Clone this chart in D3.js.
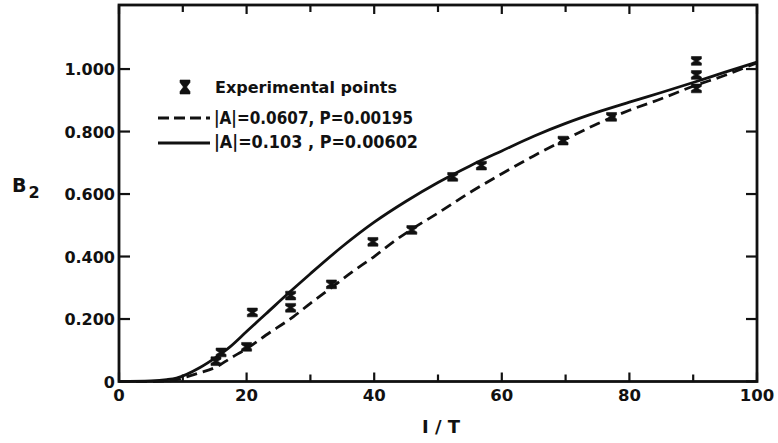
<!DOCTYPE html>
<html>
<head>
<meta charset="utf-8">
<script src="https://cdn.jsdelivr.net/npm/d3@7"></script>
<style>
  body { margin: 0; background: #fff; }
  text { font-family: "DejaVu Sans", sans-serif; font-weight: bold; fill: #111; }
</style>
</head>
<body>
<svg id="chart" width="778" height="443"></svg>
<script>
// experimental points (1/T, B2)
const expX = [15.2, 16.0, 20.0, 20.9, 26.9, 26.9, 33.3, 39.8, 45.9, 52.3, 56.8, 69.6, 77.2, 90.5, 90.5, 90.5];
const expY = [0.065, 0.093, 0.111, 0.221, 0.236, 0.275, 0.311, 0.447, 0.485, 0.655, 0.691, 0.771, 0.847, 0.938, 0.981, 1.026];
const errHalf = 0.014;

// |A| = 0.103, P = 0.00602 (solid)
const solidX = [0, 5, 7.5, 9, 12.7, 15.3, 17.4, 20, 23, 26.8, 30, 35, 40, 45, 50, 55, 60, 65, 70, 75, 80, 85, 90, 95, 100];
const solidY = [0, 0.002, 0.006, 0.011, 0.045, 0.079, 0.111, 0.16, 0.216, 0.287, 0.345, 0.432, 0.51, 0.577, 0.637, 0.69, 0.738, 0.785, 0.826, 0.862, 0.894, 0.925, 0.957, 0.99, 1.022];

// |A| = 0.0607, P = 0.00195 (dashed)
const dashX = [0, 5, 8, 10.6, 12.5, 15.3, 17.5, 20, 23, 27.3, 30, 33.6, 36.5, 40, 43, 46.1, 50.3, 55, 60, 65, 70, 75, 80, 85, 90, 95, 100];
const dashY = [0, 0, 0.002, 0.015, 0.027, 0.047, 0.075, 0.105, 0.148, 0.207, 0.25, 0.305, 0.35, 0.4, 0.447, 0.49, 0.543, 0.605, 0.665, 0.722, 0.775, 0.825, 0.868, 0.905, 0.945, 0.98, 1.02];

const xTicks = [0, 20, 40, 60, 80, 100];
const xMinor = [10, 30, 50, 70, 90];
const yTicks = [0, 0.2, 0.4, 0.6, 0.8, 1.0];
const legendLabels = ["Experimental points", "|A|=0.0607, P=0.00195", "|A|=0.103 , P=0.00602"];

const svg = d3.select("#chart");
const mLeft = 119, mRight = 757, mTop = 5, mBottom = 381.5;

const x = d3.scaleLinear().domain([0, 100]).range([mLeft, mRight]);
const y = d3.scaleLinear().domain([0, 1.205]).range([mBottom, mTop]);

// frame
svg.append("rect")
    .attr("x", mLeft).attr("y", mTop)
    .attr("width", mRight - mLeft).attr("height", mBottom - mTop)
    .attr("fill", "none").attr("stroke", "#111").attr("stroke-width", 2.8);

// ticks (all pointing inward)
const g = svg.append("g").attr("stroke", "#111").attr("stroke-width", 2.2);
xTicks.concat(xMinor).forEach(t => {
    const len = xTicks.includes(t) ? 9 : 7;
    g.append("line").attr("x1", x(t)).attr("x2", x(t)).attr("y1", mBottom).attr("y2", mBottom - len);
    g.append("line").attr("x1", x(t)).attr("x2", x(t)).attr("y1", mTop).attr("y2", mTop + len);
});
yTicks.forEach(t => {
    g.append("line").attr("x1", mLeft).attr("x2", mLeft + 11).attr("y1", y(t)).attr("y2", y(t));
    g.append("line").attr("x1", mRight).attr("x2", mRight - 11).attr("y1", y(t)).attr("y2", y(t));
});

// tick labels
svg.selectAll(".xl").data(xTicks).enter().append("text")
    .attr("x", d => x(d)).attr("y", 401)
    .attr("text-anchor", "middle").attr("font-size", 16.5)
    .text(d => d);
svg.selectAll(".yl").data(yTicks).enter().append("text")
    .attr("x", 115).attr("y", d => y(d) + 6)
    .attr("text-anchor", "end").attr("font-size", 16)
    .text(d => d === 0 ? "0" : d3.format(".3f")(d));

// axis titles
const b2 = svg.append("text").attr("x", 12).attr("y", 192).attr("font-size", 19);
b2.append("tspan").text("B");
b2.append("tspan").attr("dy", 6).attr("dx", 2).attr("font-size", 16).text("2");
svg.append("text").attr("x", 441).attr("y", 433).attr("text-anchor", "middle")
    .attr("font-size", 18).text("I / T");

// curves
const line = (xs, ys) => d3.line()
    .x((d, i) => x(xs[i])).y((d, i) => y(ys[i]))
    .curve(d3.curveMonotoneX)(xs);

svg.append("path").attr("d", line(solidX, solidY))
    .attr("fill", "none").attr("stroke", "#111").attr("stroke-width", 2.8);
svg.append("path").attr("d", line(dashX, dashY))
    .attr("fill", "none").attr("stroke", "#111").attr("stroke-width", 2.8)
    .attr("stroke-dasharray", "11,6");

// error bars, drawn as the hourglass "I" glyph of the original
function errBar(sel, cx, cy, h) {
    const w = 5, c = 1.6, t = 2.4;
    const p = d3.path();
    p.moveTo(cx - w, cy - h); p.lineTo(cx + w, cy - h); p.lineTo(cx + w, cy - h + t);
    p.lineTo(cx + c, cy); p.lineTo(cx + w, cy + h - t); p.lineTo(cx + w, cy + h);
    p.lineTo(cx - w, cy + h); p.lineTo(cx - w, cy + h - t); p.lineTo(cx - c, cy);
    p.lineTo(cx - w, cy - h + t); p.closePath();
    sel.append("path").attr("d", p.toString()).attr("fill", "#111")
        .attr("stroke", "#111").attr("stroke-width", 0.6);
}
const pts = svg.append("g");
expX.forEach((v, i) => {
    const cy = y(expY[i]);
    errBar(pts, x(v), cy, y(expY[i] - errHalf) - cy);
});

// legend
const lg = svg.append("g");
errBar(lg, 185, 87, 7);
lg.append("text").attr("x", 215).attr("y", 93).attr("font-size", 15)
    .attr("textLength", 182).attr("lengthAdjust", "spacingAndGlyphs").text(legendLabels[0]);
lg.append("line").attr("x1", 158).attr("x2", 210).attr("y1", 118).attr("y2", 118)
    .attr("stroke", "#111").attr("stroke-width", 2.8).attr("stroke-dasharray", "11,5");
lg.append("text").attr("x", 214).attr("y", 124).attr("font-size", 17)
    .attr("textLength", 199).attr("lengthAdjust", "spacingAndGlyphs").text(legendLabels[1]);
lg.append("line").attr("x1", 158).attr("x2", 210).attr("y1", 143).attr("y2", 143)
    .attr("stroke", "#111").attr("stroke-width", 2.8);
lg.append("text").attr("x", 214).attr("y", 148).attr("font-size", 17)
    .attr("textLength", 204).attr("lengthAdjust", "spacingAndGlyphs").text(legendLabels[2]);
</script>
</body>
</html>
